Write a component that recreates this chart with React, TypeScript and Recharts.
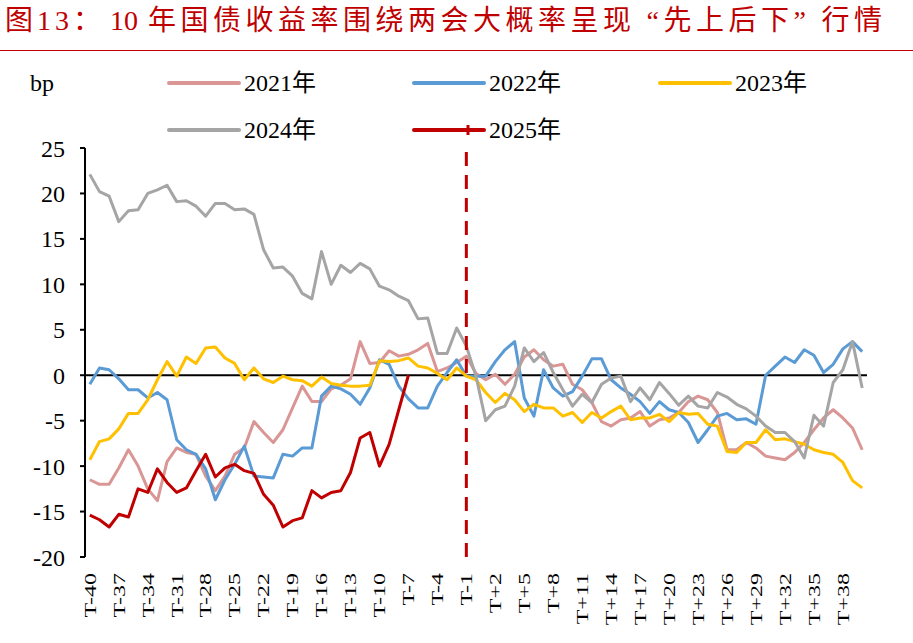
import React from 'react';
import { LineChart, Line, XAxis, YAxis, ReferenceLine } from 'recharts';

// day labels around the NPC/CPPCC sessions, T = opening day
const days = [
  ...Array.from({ length: 40 }, (_, k) => `T-${40 - k}`),
  'T',
  ...Array.from({ length: 40 }, (_, k) => `T+${k + 1}`),
];

const yTicks = [-20, -15, -10, -5, 0, 5, 10, 15, 20, 25];

// 10Y yield change vs base day, bp
const y2021 = [
  -11.5, -12.0, -12.0, -10.2, -8.2, -10.0, -12.5, -13.8, -9.5, -8.0,
  -8.5, -8.7, -11.1, -12.7, -11.1, -8.7, -8.0, -5.1, -6.3, -7.4,
  -6.0, -3.6, -1.2, -2.9, -2.9, -1.5, -1.1, -0.4, 3.7, 1.3,
  1.4, 2.7, 2.1, 2.3, 2.8, 3.5, 0.4, 0.8, 1.4, 2.1,
  0.2, -0.5, 0.1, -1.0, 0.1, 2.0, 2.8, 1.7, 1.0, 1.2,
  -1.0, -1.6, -3.0, -5.1, -5.6, -4.9, -4.7, -4.0, -5.6, -4.9,
  -4.7, -4.1, -2.9, -2.3, -2.7, -4.1, -8.2, -8.2, -7.4, -8.0,
  -8.9, -9.1, -9.3, -8.5, -7.4, -6.0, -4.7, -3.8, -4.7, -5.8,
  -8.2,
];

const y2022 = [
  -1.0, 0.8, 0.6, -0.4, -1.6, -1.6, -2.5, -1.9, -2.7, -7.1,
  -8.2, -8.7, -10.3, -13.7, -11.5, -9.8, -7.8, -11.1, -11.2, -11.3,
  -8.7, -8.9, -8.0, -8.0, -2.3, -1.2, -1.5, -2.1, -3.2, -1.4,
  1.7, 1.2, -1.2, -2.6, -3.6, -3.6, -1.2, 0.3, 1.7, -0.1,
  -0.1, -0.1, 1.5, 2.8, 3.7, -2.5, -4.5, 0.6, -1.4, -2.3,
  -1.8, -0.1, 1.8, 1.8, -0.5, -1.4, -2.1, -2.9, -4.2, -2.9,
  -3.8, -4.1, -5.2, -7.4, -6.0, -4.5, -4.2, -4.9, -4.8, -5.4,
  0.0, 1.0, 2.0, 1.4, 2.8, 2.2, 0.3, 1.2, 2.9, 3.7,
  2.6,
];

const y2023 = [
  -9.3, -7.3, -7.0, -5.9, -4.2, -4.2, -2.7, -0.5, 1.5, -0.1,
  2.0, 1.3, 3.0, 3.1, 1.9, 1.3, -0.5, 0.8, -0.4, -0.8,
  -0.1, -0.5, -0.6, -1.2, -0.2, -0.9, -1.1, -1.2, -1.2, -1.1,
  1.6, 1.5, 1.6, 1.9, 1.0, 0.8, 0.2, -0.5, 0.8, -0.1,
  -0.5, -1.9, -3.0, -2.0, -2.7, -4.0, -3.2, -3.6, -3.6, -4.5,
  -4.1, -5.2, -4.1, -4.7, -4.0, -3.4, -4.9, -4.7, -4.7, -4.3,
  -5.1, -4.1, -4.3, -4.2, -5.4, -5.6, -8.4, -8.5, -7.4, -7.4,
  -6.0, -7.1, -7.0, -7.3, -7.6, -8.2, -8.5, -8.7, -9.6, -11.6,
  -12.4,
];

const y2024 = [
  22.1, 20.2, 19.7, 16.9, 18.1, 18.2, 20.0, 20.4, 20.9, 19.1,
  19.2, 18.6, 17.5, 18.9, 18.9, 18.2, 18.3, 17.7, 13.8, 11.8,
  11.9, 10.9, 9.0, 8.4, 13.6, 10.0, 12.1, 11.3, 12.3, 11.7,
  9.8, 9.4, 8.7, 8.2, 6.2, 6.3, 2.4, 2.4, 5.2, 3.2,
  -0.1, -5.0, -3.8, -3.4, -1.2, 3.0, 1.5, 2.5, 0.3, -1.6,
  -3.4, -2.1, -3.0, -1.0, -0.3, -0.1, -2.9, -1.4, -2.7, -0.8,
  -2.0, -3.3, -2.3, -3.4, -3.6, -1.9, -2.4, -3.2, -3.7, -4.5,
  -5.6, -6.3, -6.3, -7.3, -9.1, -4.4, -5.6, -0.8, 0.6, 3.7,
  -1.4,
];

// 2025 only runs up to T-7
const y2025 = [
  -15.4, -15.9, -16.7, -15.3, -15.6, -12.5, -12.9, -10.3, -11.8, -12.9,
  -12.4, -10.5, -8.7, -11.2, -10.2, -9.8, -10.5, -10.8, -13.1, -14.3,
  -16.7, -16.0, -15.7, -12.7, -13.5, -12.9, -12.7, -10.7, -6.9, -6.3,
  -10.0, -7.6, -3.8, 0.0,
];

const data = days.map((t, i) => ({
  t,
  y2021: y2021[i],
  y2022: y2022[i],
  y2023: y2023[i],
  y2024: y2024[i],
  y2025: i < y2025.length ? y2025[i] : null,
}));

const SERIF = "'Liberation Serif', 'Noto Sans CJK SC', serif";
const RED = '#C00000';

const series = [
  { key: 'y2021', name: '2021年', color: '#D99694' },
  { key: 'y2022', name: '2022年', color: '#5B9BD5' },
  { key: 'y2023', name: '2023年', color: '#FFC000' },
  { key: 'y2024', name: '2024年', color: '#A5A5A5' },
  { key: 'y2025', name: '2025年', color: RED },
];

const legendPos = [
  { left: 167, top: 83 },
  { left: 412, top: 83 },
  { left: 658, top: 83 },
  { left: 167, top: 130 },
  { left: 412, top: 130 },
];

const XTick = (props: any) => {
  const { x, payload } = props;
  return (
    <text
      transform={`translate(${x},573) rotate(-90) scale(1,0.72)`}
      textAnchor="end"
      dominantBaseline="central"
      fontSize={24}
      fontFamily={SERIF}
      fill="#000"
    >
      {payload.value}
    </text>
  );
};

// full-width cell for the curly quotes in the title
const Q = ({ ch, align }: { ch: string; align: 'left' | 'right' }) => (
  <span style={{ display: 'inline-block', width: 28, textAlign: align }}>{ch}</span>
);

export default function App() {
  return (
    <div style={{ position: 'absolute', left: 0, top: 0, width: 913, height: 643, background: '#fff', overflow: 'hidden' }}>
      <div style={{ position: 'absolute', left: 5, top: 6, fontSize: 28, lineHeight: '30px', color: RED, fontFamily: SERIF, whiteSpace: 'nowrap' }}>
        <span style={{ position: 'absolute', left: 0, letterSpacing: 4 }}>图13：</span>
        <span style={{ position: 'absolute', left: 105 }}>10</span>
        <span style={{ position: 'absolute', left: 143, letterSpacing: 4.5 }}>
          年国债收益率围绕两会大概率呈现<Q ch="“" align="right" />先上后下<Q ch="”" align="left" />行情
        </span>
      </div>
      <div style={{ position: 'absolute', left: 0, top: 50, width: 913, height: 0, borderTop: `1.5px solid ${RED}` }} />

      <div style={{ position: 'absolute', left: 30, top: 70, fontSize: 24, lineHeight: '26px', fontFamily: SERIF }}>bp</div>

      {series.map((s, i) => (
        <div key={s.key} style={{ position: 'absolute', left: legendPos[i].left, top: legendPos[i].top - 13, height: 26, display: 'flex', alignItems: 'center' }}>
          <svg width={74} height={12} style={{ display: 'block' }}>
            <line x1={2} y1={6} x2={72} y2={6} stroke={s.color} strokeWidth={4} strokeLinecap="round" />
            {s.key === 'y2025' && <line x1={56} y1={1} x2={56} y2={11} stroke={s.color} strokeWidth={3} />}
          </svg>
          <span style={{ marginLeft: 3, fontSize: 24, lineHeight: '26px', fontFamily: SERIF }}>{s.name}</span>
        </div>
      ))}

      <div style={{ position: 'absolute', left: 0, top: 0 }}>
        <LineChart width={913} height={643} data={data} margin={{ top: 148, right: 46, bottom: 0, left: 0 }}>
          <XAxis
            dataKey="t"
            scale="band"
            interval={2}
            axisLine={false}
            tickLine={false}
            height={86}
            tick={<XTick />}
          />
          <YAxis
            domain={[-20, 25]}
            ticks={yTicks}
            interval={0}
            width={85}
            axisLine={{ stroke: '#000', strokeWidth: 2 }}
            tickLine={{ stroke: '#000', strokeWidth: 2 }}
            tickSize={5}
            tickMargin={15}
            tick={{ fill: '#000', fontSize: 24, fontFamily: SERIF }}
          />
          <ReferenceLine y={0} stroke="#000" strokeWidth={2} />
          {series.map((s) => (
            <Line
              key={s.key}
              type="linear"
              dataKey={s.key}
              name={s.name}
              stroke={s.color}
              strokeWidth={3}
              strokeLinejoin="round"
              dot={false}
              isAnimationActive={false}
            />
          ))}
          <ReferenceLine x="T-1" stroke={RED} strokeWidth={3} strokeDasharray="14 9" />
        </LineChart>
      </div>
    </div>
  );
}
